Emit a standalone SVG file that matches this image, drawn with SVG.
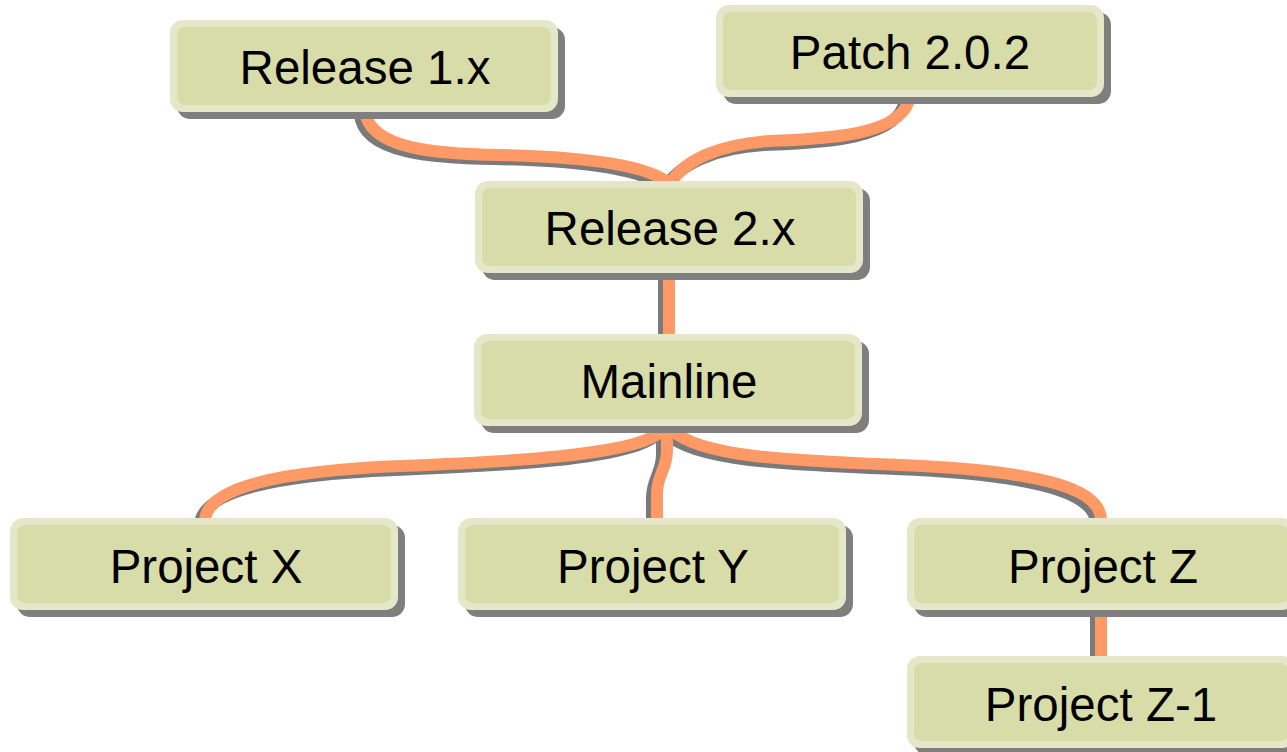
<svg xmlns="http://www.w3.org/2000/svg" width="1287" height="752" viewBox="0 0 1287 752">
<style>
.sh{fill:#7f7f7f}
.ob{fill:#e4e8c8}
.ib{fill:#d8dca8}
.t{font-family:"Liberation Sans",Arial,sans-serif;font-size:47.5px;fill:#000;text-anchor:middle}
.cs{fill:none;stroke:#7a7a7a;stroke-width:12}
.c{fill:none;stroke:#ff9966;stroke-width:12}
</style>
<defs>
<g id="box">
<rect class="sh" x="7" y="7" width="388" height="92" rx="13"/>
<rect class="ob" x="0" y="0" width="388" height="92" rx="13"/>
<rect class="ib" x="7" y="7" width="374" height="78" rx="8"/>
</g>
<path id="e1" d="M365,110 C368,150 440,154 500,155 C600,157 652,168 670,184"/>
<path id="e2" d="M910,95 C906,137 820,139 770,141 C720,144 684,160 670,184"/>
<path id="e3" d="M669,270 L669,337"/>
<path id="e4" d="M662,430 C640,456 500,462 400,466 C280,471 208,487 205,520"/>
<path id="e5" d="M667,430 L667,450 C667,470 657,474 657,494 L657,520"/>
<path id="e6" d="M672,430 C700,458 800,461 900,465 C1050,471 1101,491 1101,520"/>
<path id="e7" d="M1101,608 L1101,658"/>
</defs>
<g id="connectors">
<g transform="translate(-5,4)">
<use href="#e1" class="cs"/><use href="#e2" class="cs"/><use href="#e3" class="cs"/><use href="#e4" class="cs"/><use href="#e5" class="cs"/><use href="#e6" class="cs"/><use href="#e7" class="cs"/>
</g>
<use href="#e1" class="c"/><use href="#e2" class="c"/><use href="#e3" class="c"/><use href="#e4" class="c"/><use href="#e5" class="c"/><use href="#e6" class="c"/><use href="#e7" class="c"/>
</g>
<g id="release1"><use href="#box" x="170" y="20"/><text class="t" x="365" y="84">Release 1.x</text></g>
<g id="patch202"><use href="#box" x="716" y="5"/><text class="t" x="910" y="69">Patch 2.0.2</text></g>
<g id="release2"><use href="#box" x="475" y="181"/><text class="t" x="670" y="245">Release 2.x</text></g>
<g id="mainline"><use href="#box" x="474" y="334"/><text class="t" x="669" y="398">Mainline</text></g>
<g id="projectX"><use href="#box" x="10" y="518"/><text class="t" x="206" y="583">Project X</text></g>
<g id="projectY"><use href="#box" x="458" y="518"/><text class="t" x="653" y="583">Project Y</text></g>
<g id="projectZ"><use href="#box" x="907" y="518"/><text class="t" x="1103" y="583">Project Z</text></g>
<g id="projectZ1"><use href="#box" x="907" y="656"/><text class="t" x="1101" y="721">Project Z-1</text></g>
</svg>
